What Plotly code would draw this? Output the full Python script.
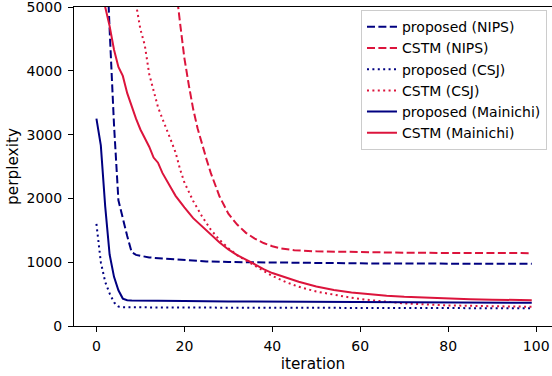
import plotly.graph_objects as go

NAVY = "#000080"
CRIMSON = "#DC143C"

# proposed (NIPS)
prop_nips_x = [0, 1, 2, 3, 4, 5, 6, 7, 8, 9, 10, 11, 12, 15, 20, 25, 30, 40, 50, 60, 70, 80, 90, 99]
prop_nips_y = [9500, 8000, 6300, 4650, 3150, 1970, 1680, 1410, 1160, 1115, 1100, 1088, 1075, 1058,
               1030, 1012, 1003, 993, 987, 982, 979, 977, 976, 975]

# CSTM (NIPS)
cstm_nips_x = [17, 18, 19, 20, 21, 22, 23, 24, 25, 26, 27, 28, 30, 32, 34, 36, 38, 40, 42, 45,
               50, 55, 60, 70, 80, 90, 99]
cstm_nips_y = [5800, 5350, 4760, 4200, 3780, 3400, 3100, 2850, 2620, 2400, 2200, 2030, 1760, 1590,
               1460, 1370, 1300, 1250, 1215, 1188, 1170, 1162, 1156, 1149, 1145, 1143, 1142]

# proposed (CSJ)
prop_csj_x = [0, 1, 2, 3, 4, 5, 6, 8, 10, 15, 20, 30, 40, 50, 60, 70, 80, 90, 99]
prop_csj_y = [1600, 1000, 690, 510, 370, 305, 295, 292, 291, 290, 289, 287, 285, 283, 282, 281,
              280, 279, 278]

# CSTM (CSJ)
cstm_csj_x = [8, 9, 10, 11, 12, 13, 14, 15, 16, 17, 18, 19, 20, 22, 24, 26, 28, 30, 32, 35, 38,
              40, 43, 46, 50, 54, 58, 62, 66, 70, 75, 80, 90, 99]
cstm_csj_y = [5800, 5050, 4650, 4400, 3950, 3680, 3430, 3250, 3060, 2900, 2720, 2460, 2250, 1960,
              1720, 1510, 1350, 1220, 1110, 985, 855, 785, 690, 615, 540, 487, 443, 407, 378, 355,
              337, 323, 310, 302]

# proposed (Mainichi)
prop_main_x = [0, 1, 2, 3, 4, 5, 6, 7, 8, 10, 15, 20, 30, 40, 50, 60, 70, 80, 90, 99]
prop_main_y = [3250, 2830, 1870, 1120, 770, 560, 430, 405, 398, 395, 392, 390, 384, 380, 375,
               370, 366, 365, 364, 363]

# CSTM (Mainichi)
cstm_main_x = [1, 2, 3, 4, 5, 6, 7, 8, 9, 10, 11, 12, 13, 14, 15, 16, 17, 18, 19, 20, 22, 24, 26,
               28, 30, 32, 35, 38, 40, 43, 46, 50, 54, 58, 62, 66, 70, 75, 80, 85, 90, 99]
cstm_main_y = [5600, 5000, 4700, 4330, 4060, 3920, 3650, 3440, 3250, 3080, 2950, 2810, 2640,
               2560, 2400, 2270, 2160, 2040, 1940, 1860, 1690, 1560, 1430, 1310, 1200, 1110, 1006,
               890, 830, 760, 693, 620, 565, 525, 497, 475, 458, 443, 430, 420, 413, 405]

x_ticks = [0, 20, 40, 60, 80, 100]
y_ticks = [0, 1000, 2000, 3000, 4000, 5000]

DASH = "8px,3.4px"
DOT = "2px,3.4px"

series = [
    ("proposed (NIPS)", prop_nips_x, prop_nips_y, NAVY, DASH),
    ("CSTM (NIPS)", cstm_nips_x, cstm_nips_y, CRIMSON, DASH),
    ("proposed (CSJ)", prop_csj_x, prop_csj_y, NAVY, DOT),
    ("CSTM (CSJ)", cstm_csj_x, cstm_csj_y, CRIMSON, DOT),
    ("proposed (Mainichi)", prop_main_x, prop_main_y, NAVY, "solid"),
    ("CSTM (Mainichi)", cstm_main_x, cstm_main_y, CRIMSON, "solid"),
]

fig = go.Figure()
for name, xs, ys, color, dash in series:
    fig.add_trace(go.Scatter(x=xs, y=ys, mode="lines", name=name,
                             line=dict(color=color, width=2, dash=dash)))

FONT = "DejaVu Sans"
fig.update_layout(
    width=552, height=376,
    margin=dict(l=74, r=0, t=7, b=50, autoexpand=False),
    paper_bgcolor="white", plot_bgcolor="white",
    font=dict(family=FONT, size=14, color="black"),
    showlegend=True,
    legend=dict(x=0.9895, y=0.99, xanchor="right", yanchor="top",
                bgcolor="rgba(255,255,255,0.8)", bordercolor="#cccccc", borderwidth=1,
                font=dict(family=FONT, size=14, color="black"),
                tracegroupgap=0),
    xaxis=dict(range=[-5.1, 103.6], tickvals=x_ticks, ticks="outside", ticklen=5,
               tickwidth=1, tickcolor="black", showline=True, linecolor="black",
               linewidth=1, mirror=True, showgrid=False, zeroline=False, automargin=False,
               ticklabeloverflow="allow", ticklabelstandoff=2,
               tickfont=dict(family=FONT, size=14),
               title=dict(text="iteration", font=dict(family=FONT, size=15.3), standoff=5)),
    yaxis=dict(range=[0, 5000], tickvals=y_ticks, ticks="outside", ticklen=5,
               tickwidth=1, tickcolor="black", showline=True, linecolor="black",
               linewidth=1, showgrid=False, zeroline=False, automargin=False,
               ticklabeloverflow="allow", ticklabelstandoff=3,
               tickfont=dict(family=FONT, size=14),
               title=dict(text="perplexity", font=dict(family=FONT, size=15.3), standoff=4)),
)

fig.write_html("out.html", config={"displayModeBar": False},
               post_script="document.body.style.margin='0px';document.body.style.overflow='hidden';")
